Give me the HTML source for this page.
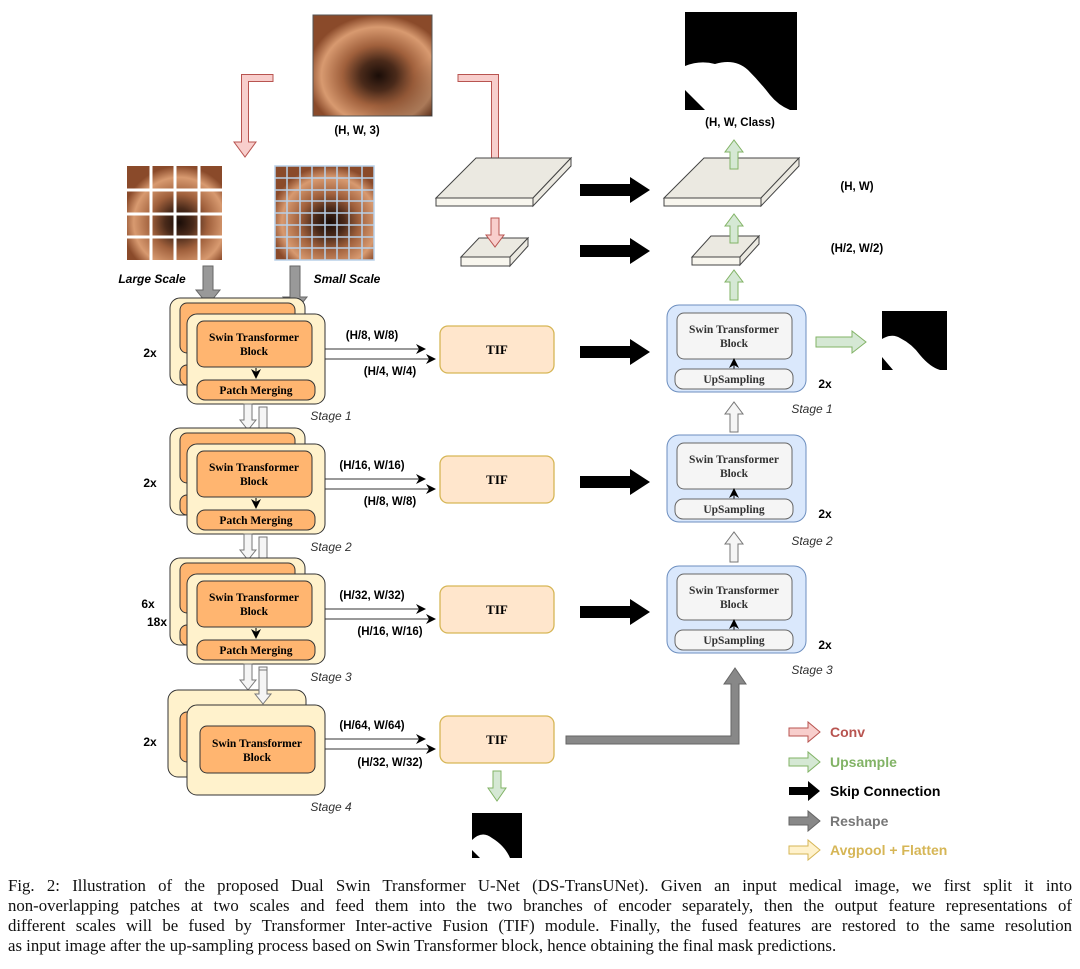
<!DOCTYPE html>
<html><head><meta charset="utf-8"><style>
body{margin:0;background:#fff;width:1080px;height:969px;overflow:hidden;position:relative}
svg{position:absolute;left:0;top:0}
.cap{position:absolute;left:8px;width:1064px;font-family:"Liberation Serif",serif;font-size:16.8px;line-height:20px;color:#111}
.cap div{text-align:justify;text-align-last:justify;white-space:nowrap}
.cap div.last{text-align-last:left}
</style></head><body>
<svg width="1080" height="880" viewBox="0 0 1080 880" font-family="Liberation Sans, sans-serif">
<defs>
<radialGradient id="colon" cx="0.55" cy="0.6" r="0.6">
<stop offset="0" stop-color="#1a0d08"/><stop offset="0.25" stop-color="#4a2a1a"/><stop offset="0.5" stop-color="#a0603c"/><stop offset="0.8" stop-color="#d89a70"/><stop offset="1" stop-color="#8a4a2a"/>
</radialGradient>
<linearGradient id="shade" x1="0" y1="0" x2="1" y2="1"><stop offset="0" stop-color="#000" stop-opacity="0"/><stop offset="0.7" stop-color="#000" stop-opacity="0"/><stop offset="1" stop-color="#000" stop-opacity="0.3"/></linearGradient>
<marker id="ah" markerWidth="10" markerHeight="10" refX="9" refY="5" orient="auto" markerUnits="userSpaceOnUse"><path d="M0,0 L10,5 L0,10 L3,5z" fill="#000"/></marker>
</defs>
<rect x="313" y="15" width="119" height="101" fill="url(#colon)" stroke="#555"/>
<rect x="313" y="15" width="119" height="101" fill="url(#shade)"/>
<text x="357" y="134" font-size="11.5" font-weight="bold" text-anchor="middle">(H, W, 3)</text>
<polygon points="273,74.5 241.5,74.5 241.5,142 234,142 245,157 256,142 248.5,142 248.5,81.5 273,81.5" fill="#f8cecc" stroke="#b85450"/>
<polygon points="458,74.5 498.5,74.5 498.5,165 506,165 495,180 484,165 491.5,165 491.5,81.5 458,81.5" fill="#f8cecc" stroke="#b85450"/>
<rect x="127" y="166" width="95" height="94" fill="url(#colon)"/>
<g stroke="#fff" stroke-width="3"><line x1="151" y1="166" x2="151" y2="260"/><line x1="175" y1="166" x2="175" y2="260"/><line x1="199" y1="166" x2="199" y2="260"/><line x1="127" y1="190" x2="222" y2="190"/><line x1="127" y1="214" x2="222" y2="214"/><line x1="127" y1="237" x2="222" y2="237"/></g>
<rect x="275" y="166" width="99" height="94" fill="url(#colon)"/>
<g stroke="#b8d0e8" stroke-width="1.5">
<line x1="287" y1="166" x2="287" y2="260"/><line x1="300" y1="166" x2="300" y2="260"/><line x1="312" y1="166" x2="312" y2="260"/><line x1="325" y1="166" x2="325" y2="260"/><line x1="337" y1="166" x2="337" y2="260"/><line x1="349" y1="166" x2="349" y2="260"/><line x1="362" y1="166" x2="362" y2="260"/>
<line x1="275" y1="178" x2="374" y2="178"/><line x1="275" y1="190" x2="374" y2="190"/><line x1="275" y1="201" x2="374" y2="201"/><line x1="275" y1="213" x2="374" y2="213"/><line x1="275" y1="225" x2="374" y2="225"/><line x1="275" y1="237" x2="374" y2="237"/><line x1="275" y1="248" x2="374" y2="248"/>
<rect x="275" y="166" width="99" height="94" fill="none"/></g>
<text x="152" y="283" font-size="12" font-weight="bold" font-style="italic" text-anchor="middle">Large Scale</text>
<text x="347" y="283" font-size="12" font-weight="bold" font-style="italic" text-anchor="middle">Small Scale</text>
<polygon points="203,266 213,266 213,290 220,290 208,305 196,290 203,290" fill="#999" stroke="#666"/>
<polygon points="290,266 300,266 300,297 307,297 295,312 283,297 290,297" fill="#999" stroke="#666"/>

<g id="st1">
<rect x="170" y="298" width="135" height="87" rx="10" fill="#fff2cc" stroke="#333"/>
<rect x="180" y="303" width="115" height="50" rx="7" fill="#ffb570" stroke="#333"/>
<rect x="180" y="365" width="115" height="20" rx="7" fill="#ffb570" stroke="#333"/>
<rect x="187" y="314" width="138" height="90" rx="10" fill="#fff2cc" stroke="#333"/>
<rect x="197" y="321" width="115" height="46" rx="7" fill="#ffb570" stroke="#333"/>
<text x="254" y="341" font-family="Liberation Serif,serif" font-size="11.5" font-weight="bold" text-anchor="middle">Swin Transformer</text>
<text x="254" y="355" font-family="Liberation Serif,serif" font-size="11.5" font-weight="bold" text-anchor="middle">Block</text>
<line x1="256" y1="368" x2="256" y2="378" stroke="#000" marker-end="url(#ah)"/>
<rect x="197" y="380" width="118" height="20" rx="8" fill="#ffb570" stroke="#333"/>
<text x="256" y="394" font-family="Liberation Serif,serif" font-size="11.5" font-weight="bold" text-anchor="middle">Patch Merging</text>
<line x1="325" y1="349" x2="425" y2="349" stroke="#333" marker-end="url(#ah)"/>
<line x1="325" y1="359" x2="435" y2="359" stroke="#333" marker-end="url(#ah)"/>
<rect x="440" y="326" width="114" height="47" rx="8" fill="#ffe6cc" stroke="#d6b656" stroke-width="1.3"/>
<text x="497" y="354" font-family="Liberation Serif,serif" font-size="13" font-weight="bold" text-anchor="middle">TIF</text>
<polygon points="580,346 630,346 630,339 650,352 630,365 630,358 580,358" fill="#000"/>
<polygon points="244,404 252,404 252,420 256,420 248,430 240,420 244,420" fill="#f5f5f5" stroke="#777"/>
<polygon points="259,407 267,407 267,436 271,436 263,446 255,436 259,436" fill="#f5f5f5" stroke="#777"/>
</g>
<text x="150" y="357" font-size="12" font-weight="bold" text-anchor="middle">2x</text>
<text x="372" y="339" font-size="11.5" font-weight="bold" text-anchor="middle">(H/8, W/8)</text>
<text x="390" y="375" font-size="11.5" font-weight="bold" text-anchor="middle">(H/4, W/4)</text>
<text x="331" y="420" font-size="12" font-style="italic" text-anchor="middle" fill="#333">Stage 1</text>
<use href="#st1" y="130"/>
<text x="150" y="487" font-size="12" font-weight="bold" text-anchor="middle">2x</text>
<text x="372" y="469" font-size="11.5" font-weight="bold" text-anchor="middle">(H/16, W/16)</text>
<text x="390" y="505" font-size="11.5" font-weight="bold" text-anchor="middle">(H/8, W/8)</text>
<text x="331" y="551" font-size="12" font-style="italic" text-anchor="middle" fill="#333">Stage 2</text>
<use href="#st1" y="260"/>
<text x="148" y="608" font-size="12" font-weight="bold" text-anchor="middle">6x</text>
<text x="157" y="626" font-size="12" font-weight="bold" text-anchor="middle">18x</text>
<text x="372" y="599" font-size="11.5" font-weight="bold" text-anchor="middle">(H/32, W/32)</text>
<text x="390" y="635" font-size="11.5" font-weight="bold" text-anchor="middle">(H/16, W/16)</text>
<text x="331" y="681" font-size="12" font-style="italic" text-anchor="middle" fill="#333">Stage 3</text>
<rect x="168" y="690" width="138" height="87" rx="10" fill="#fff2cc" stroke="#333"/>
<rect x="180" y="712" width="100" height="50" rx="7" fill="#ffb570" stroke="#333"/>
<rect x="187" y="705" width="138" height="90" rx="10" fill="#fff2cc" stroke="#333"/>
<rect x="200" y="726" width="115" height="47" rx="7" fill="#ffb570" stroke="#333"/>
<text x="257" y="747" font-family="Liberation Serif,serif" font-size="11.5" font-weight="bold" text-anchor="middle">Swin Transformer</text>
<text x="257" y="761" font-family="Liberation Serif,serif" font-size="11.5" font-weight="bold" text-anchor="middle">Block</text>
<polygon points="259,670 267,670 267,694 271,694 263,704 255,694 259,694" fill="#f5f5f5" stroke="#777"/>
<text x="150" y="746" font-size="12" font-weight="bold" text-anchor="middle">2x</text>
<line x1="325" y1="739" x2="425" y2="739" stroke="#333" marker-end="url(#ah)"/>
<line x1="325" y1="749" x2="435" y2="749" stroke="#333" marker-end="url(#ah)"/>
<text x="372" y="729" font-size="11.5" font-weight="bold" text-anchor="middle">(H/64, W/64)</text>
<text x="390" y="766" font-size="11.5" font-weight="bold" text-anchor="middle">(H/32, W/32)</text>
<text x="331" y="811" font-size="12" font-style="italic" text-anchor="middle" fill="#333">Stage 4</text>
<rect x="440" y="716" width="114" height="47" rx="8" fill="#ffe6cc" stroke="#d6b656" stroke-width="1.3"/>
<text x="497" y="744" font-family="Liberation Serif,serif" font-size="13" font-weight="bold" text-anchor="middle">TIF</text>
<polygon points="493,771 501,771 501,788 506,788 497,801 488,788 493,788" fill="#d5e8d4" stroke="#82b366"/>
<rect x="472" y="813" width="50" height="45" fill="#000"/>
<path d="M472,840 Q482,830 492,838 Q505,846 510,858 L472,858z" fill="#fff"/>
<path d="M472,850 L472,858 L480,858z" fill="#000"/>
<polygon points="566,736 731,736 731,684 724,684 735,668 746,684 739,684 739,744 566,744" fill="#888" stroke="#666"/>
<g fill="#ebe9e1" stroke="#444">
<polygon points="436,198 476,158 571,158 533,198"/><rect x="436" y="198" width="97" height="8" fill="#f8f6ee"/><polygon points="533,198 571,158 571,166 533,206"/>
<polygon points="461,257 479,238 528,238 510,257"/><rect x="461" y="257" width="49" height="9" fill="#f8f6ee"/><polygon points="510,257 528,238 528,246 510,266"/>
<polygon points="664,198 704,158 799,158 761,198"/><rect x="664" y="198" width="97" height="8" fill="#f8f6ee"/><polygon points="761,198 799,158 799,166 761,206"/>
<polygon points="692,257 711,236 759,236 740,257"/><rect x="692" y="257" width="48" height="8" fill="#f8f6ee"/><polygon points="740,257 759,236 759,244 740,265"/>
</g>
<polygon points="491,218 499,218 499,235 504,235 495,247 486,235 491,235" fill="#f8cecc" stroke="#b85450"/>
<polygon points="580,184 630,184 630,177 650,190 630,203 630,196 580,196" fill="#000"/>
<polygon points="580,245 630,245 630,238 650,251 630,264 630,257 580,257" fill="#000"/>
<polygon points="730,169 738,169 738,152 743,152 734,140 725,152 730,152" fill="#d5e8d4" stroke="#82b366"/>
<polygon points="730,243 738,243 738,226 743,226 734,214 725,226 730,226" fill="#d5e8d4" stroke="#82b366"/>
<polygon points="730,300 738,300 738,282 743,282 734,270 725,282 730,282" fill="#d5e8d4" stroke="#82b366"/>
<rect x="685" y="12" width="112" height="98" fill="#000"/>
<path d="M685,66 Q700,60 715,64 Q735,58 748,70 Q760,82 770,95 Q778,105 790,110 L685,110z" fill="#fff"/>
<path d="M685,90 L685,110 L705,110z" fill="#000"/>
<text x="740" y="126" font-size="11.5" font-weight="bold" text-anchor="middle">(H, W, Class)</text>
<text x="857" y="190" font-size="11.5" font-weight="bold" text-anchor="middle">(H, W)</text>
<text x="857" y="252" font-size="11.5" font-weight="bold" text-anchor="middle">(H/2, W/2)</text>
<g id="dec">
<rect x="667" y="305" width="139" height="87" rx="12" fill="#dae8fc" stroke="#6c8ebf"/>
<rect x="677" y="313" width="115" height="46" rx="7" fill="#f5f5f5" stroke="#666"/>
<text x="734" y="333" font-family="Liberation Serif,serif" font-size="11.5" font-weight="bold" text-anchor="middle" fill="#333">Swin Transformer</text>
<text x="734" y="347" font-family="Liberation Serif,serif" font-size="11.5" font-weight="bold" text-anchor="middle" fill="#333">Block</text>
<line x1="734" y1="369" x2="734" y2="359" stroke="#000" marker-end="url(#ah)"/>
<rect x="675" y="369" width="118" height="20" rx="8" fill="#f5f5f5" stroke="#666"/>
<text x="734" y="383" font-family="Liberation Serif,serif" font-size="11.5" font-weight="bold" text-anchor="middle" fill="#333">UpSampling</text>
<text x="825" y="388" font-size="12" font-weight="bold" text-anchor="middle">2x</text>
</g>
<text x="812" y="413" font-size="12" font-style="italic" text-anchor="middle" fill="#333">Stage 1</text>
<use href="#dec" y="130"/>
<text x="812" y="545" font-size="12" font-style="italic" text-anchor="middle" fill="#333">Stage 2</text>
<use href="#dec" y="261"/>
<text x="812" y="674" font-size="12" font-style="italic" text-anchor="middle" fill="#333">Stage 3</text>
<polygon points="730,432 738,432 738,414 743,414 734,402 725,414 730,414" fill="#f5f5f5" stroke="#777"/>
<polygon points="730,562 738,562 738,544 743,544 734,532 725,544 730,544" fill="#f5f5f5" stroke="#777"/>
<polygon points="816,337 852,337 852,331 866,342 852,353 852,347 816,347" fill="#d5e8d4" stroke="#82b366"/>
<rect x="882" y="311" width="65" height="59" fill="#000"/>
<path d="M882,339 Q892,333 900,338 Q912,344 920,355 Q930,367 940,370 L882,370z" fill="#fff"/>
<path d="M882,357 L882,370 L893,370z" fill="#000"/>
<g stroke-width="1">
<polygon points="789,728 808,728 808,722 820,732 808,742 808,736 789,736" fill="#f8cecc" stroke="#b85450"/>
<polygon points="789,758 808,758 808,752 820,762 808,772 808,766 789,766" fill="#d5e8d4" stroke="#82b366"/>
<polygon points="789,787 808,787 808,781 820,791 808,801 808,795 789,795" fill="#000"/>
<polygon points="789,817 808,817 808,811 820,821 808,831 808,825 789,825" fill="#888" stroke="#666"/>
<polygon points="789,846 808,846 808,840 820,850 808,860 808,854 789,854" fill="#fff2cc" stroke="#d6b656"/>
</g>
<g font-size="14" font-weight="bold">
<text x="830" y="737" fill="#b85450">Conv</text>
<text x="830" y="767" fill="#82b366">Upsample</text>
<text x="830" y="796" fill="#000">Skip Connection</text>
<text x="830" y="826" fill="#777">Reshape</text>
<text x="830" y="855" fill="#d6b656">Avgpool + Flatten</text>
</g>
</svg>
<div class="cap" style="top:876px">
<div>Fig. 2: Illustration of the proposed Dual Swin Transformer U-Net (DS-TransUNet). Given an input medical image, we first split it into</div>
<div>non-overlapping patches at two scales and feed them into the two branches of encoder separately, then the output feature representations of</div>
<div>different scales will be fused by Transformer Inter-active Fusion (TIF) module. Finally, the fused features are restored to the same resolution</div>
<div class="last">as input image after the up-sampling process based on Swin Transformer block, hence obtaining the final mask predictions.</div>
</div>
</body></html>
